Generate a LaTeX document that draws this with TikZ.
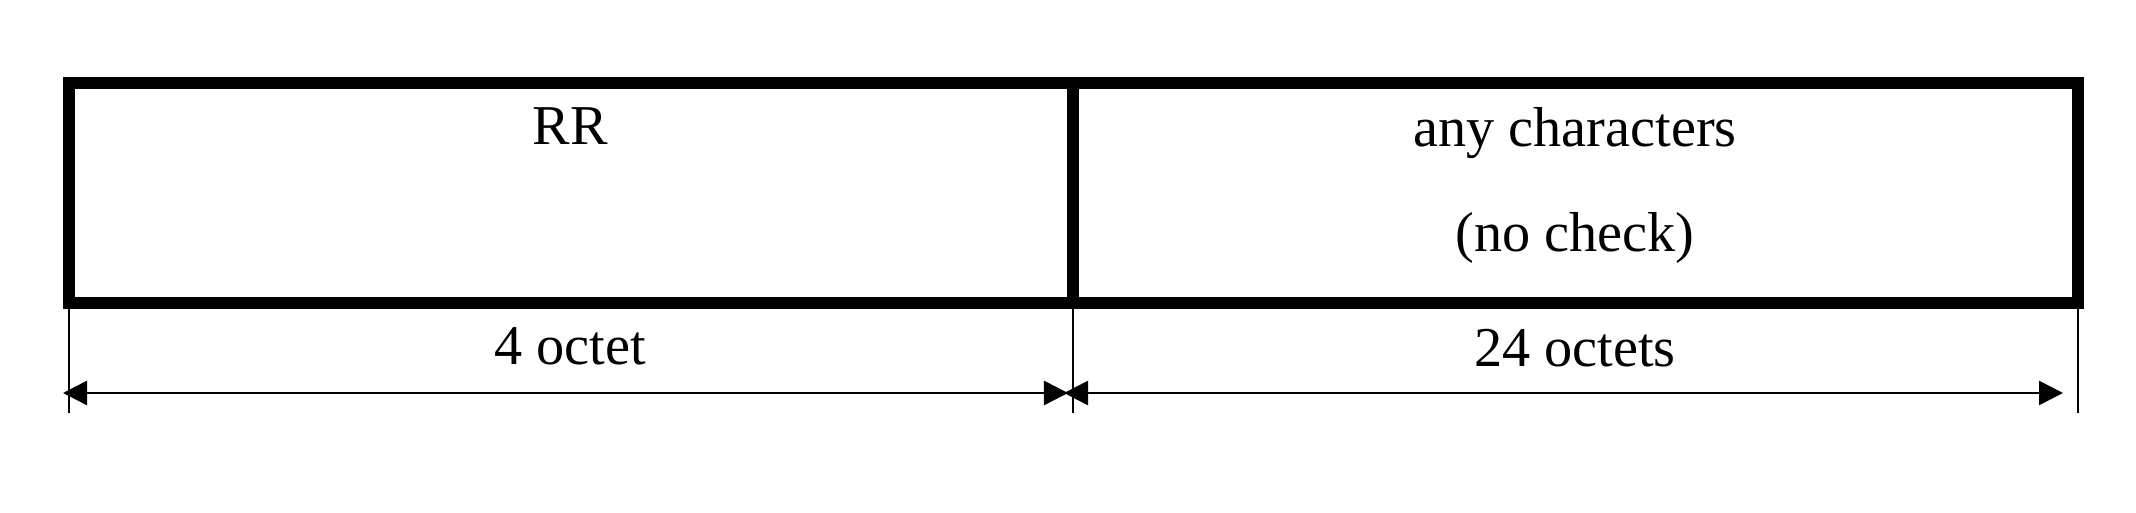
\documentclass[tikz,border=0pt]{standalone}
\usepackage{fontspec}
\setmainfont{Liberation Serif}
\usetikzlibrary{arrows.meta}

\begin{document}
\begin{tikzpicture}[x=0.01cm,y=-0.01cm]
\tikzstyle{fieldbox}=[rectangle,draw,line width=3.4pt,inner sep=0pt,outer sep=0pt,minimum height=2.2cm,anchor=north west]
\tikzstyle{txt}=[anchor=base,inner sep=0pt,font=\fontsize{16}{19}\selectfont]
\tikzstyle{tick}=[line width=0.6pt]
\tikzstyle{dim}=[line width=0.75pt,{Triangle[length=0.24cm,width=0.24cm]}-{Triangle[length=0.24cm,width=0.24cm]}]
\useasboundingbox (0,0) rectangle (2136,513);
% the two fields
\node[fieldbox,minimum width=10.03cm] (rr) at (69,83) {};
\node[fieldbox,minimum width=10.05cm] (chars) at (rr.north east) {};
\node[txt] (rrtxt) at (570,145) {RR};
\node[txt] (charstxt) at (1575,147) {any characters};
\node[txt] (checktxt) at (1575,252) {(no check)};
% lengths below
\coordinate (t1) at (69,413);
\draw[tick] (rr.south west) -- (rr.south west |- t1);
\draw[tick] (rr.south east) -- (rr.south east |- t1);
\draw[tick] (chars.south east) -- (chars.south east |- t1);
\coordinate (a1) at (63,393);
\coordinate (a2) at (1068,393);
\coordinate (a3) at (1064,393);
\coordinate (a4) at (2063,393);
\draw[dim] (a1) -- (a2);
\draw[dim] (a3) -- (a4);
\node[txt] (rrlen) at (570,365) {4 octet};
\node[txt] (charslen) at (1575,367) {24 octets};
\end{tikzpicture}
\end{document}
